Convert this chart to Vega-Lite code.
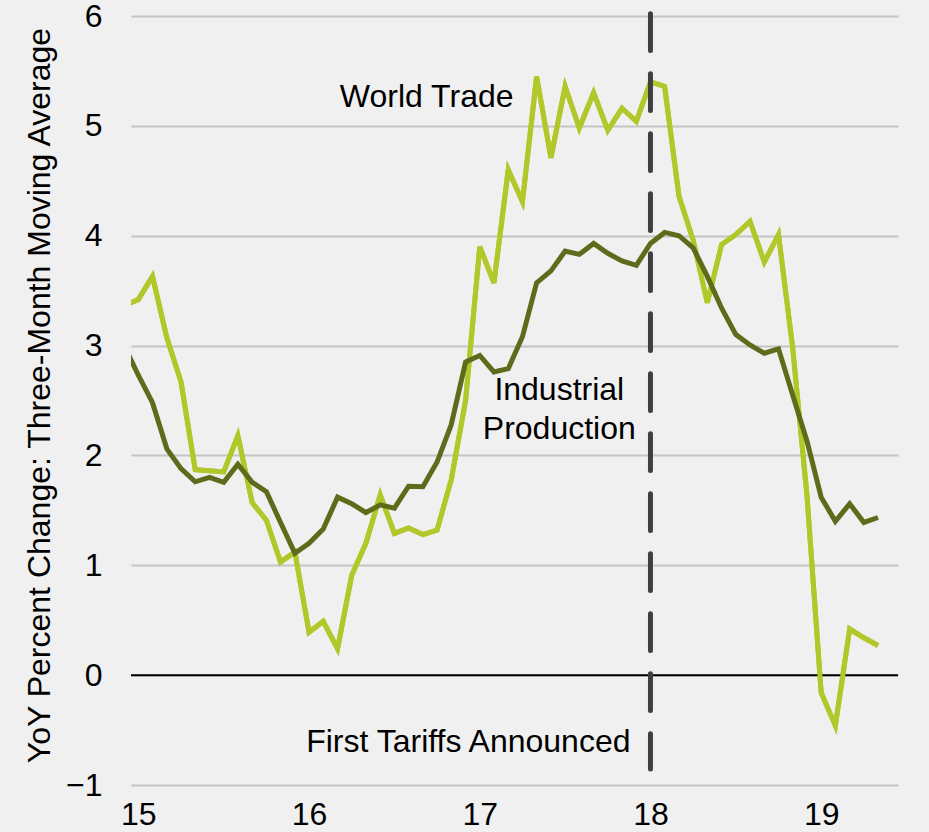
{
  "$schema": "https://vega.github.io/schema/vega-lite/v6.json",
  "width": 767,
  "height": 769,
  "autosize": "none",
  "padding": {"left": 131, "top": 16, "right": 31, "bottom": 47},
  "background": "#f0f0f0",
  "config": {"view": {"stroke": null}, "font": "Liberation Sans"},
  "datasets": {
    "wt": [
      {"t": 14.917, "v": 3.36}, {"t": 15.0, "v": 3.42}, {"t": 15.083, "v": 3.63}, {"t": 15.167, "v": 3.07},
      {"t": 15.25, "v": 2.67}, {"t": 15.333, "v": 1.87}, {"t": 15.417, "v": 1.86}, {"t": 15.5, "v": 1.85},
      {"t": 15.583, "v": 2.18}, {"t": 15.667, "v": 1.57}, {"t": 15.75, "v": 1.41}, {"t": 15.833, "v": 1.03},
      {"t": 15.917, "v": 1.12}, {"t": 16.0, "v": 0.39}, {"t": 16.083, "v": 0.49}, {"t": 16.167, "v": 0.24},
      {"t": 16.25, "v": 0.91}, {"t": 16.333, "v": 1.2}, {"t": 16.417, "v": 1.64}, {"t": 16.5, "v": 1.29},
      {"t": 16.583, "v": 1.34}, {"t": 16.667, "v": 1.28}, {"t": 16.75, "v": 1.32}, {"t": 16.833, "v": 1.78},
      {"t": 16.917, "v": 2.5}, {"t": 17.0, "v": 3.9}, {"t": 17.083, "v": 3.57}, {"t": 17.167, "v": 4.6},
      {"t": 17.25, "v": 4.31}, {"t": 17.333, "v": 5.45}, {"t": 17.417, "v": 4.71}, {"t": 17.5, "v": 5.36},
      {"t": 17.583, "v": 4.98}, {"t": 17.667, "v": 5.3}, {"t": 17.75, "v": 4.96}, {"t": 17.833, "v": 5.16},
      {"t": 17.917, "v": 5.04}, {"t": 18.0, "v": 5.4}, {"t": 18.083, "v": 5.36}, {"t": 18.167, "v": 4.36},
      {"t": 18.25, "v": 3.96}, {"t": 18.333, "v": 3.39}, {"t": 18.417, "v": 3.92}, {"t": 18.5, "v": 4.01},
      {"t": 18.583, "v": 4.13}, {"t": 18.667, "v": 3.76}, {"t": 18.75, "v": 4.01}, {"t": 18.833, "v": 2.98},
      {"t": 18.917, "v": 1.63}, {"t": 19.0, "v": -0.16}, {"t": 19.083, "v": -0.46}, {"t": 19.167, "v": 0.42},
      {"t": 19.25, "v": 0.34}, {"t": 19.333, "v": 0.27}
    ],
    "ip": [
      {"t": 14.917, "v": 3.0}, {"t": 15.0, "v": 2.73}, {"t": 15.083, "v": 2.48}, {"t": 15.167, "v": 2.06},
      {"t": 15.25, "v": 1.88}, {"t": 15.333, "v": 1.76}, {"t": 15.417, "v": 1.8}, {"t": 15.5, "v": 1.755},
      {"t": 15.583, "v": 1.92}, {"t": 15.667, "v": 1.755}, {"t": 15.75, "v": 1.67}, {"t": 15.833, "v": 1.39},
      {"t": 15.917, "v": 1.11}, {"t": 16.0, "v": 1.2}, {"t": 16.083, "v": 1.33}, {"t": 16.167, "v": 1.62},
      {"t": 16.25, "v": 1.56}, {"t": 16.333, "v": 1.48}, {"t": 16.417, "v": 1.55}, {"t": 16.5, "v": 1.52},
      {"t": 16.583, "v": 1.72}, {"t": 16.667, "v": 1.715}, {"t": 16.75, "v": 1.94}, {"t": 16.833, "v": 2.28},
      {"t": 16.917, "v": 2.85}, {"t": 17.0, "v": 2.91}, {"t": 17.083, "v": 2.76}, {"t": 17.167, "v": 2.79},
      {"t": 17.25, "v": 3.08}, {"t": 17.333, "v": 3.57}, {"t": 17.417, "v": 3.68}, {"t": 17.5, "v": 3.86},
      {"t": 17.583, "v": 3.83}, {"t": 17.667, "v": 3.93}, {"t": 17.75, "v": 3.84}, {"t": 17.833, "v": 3.77},
      {"t": 17.917, "v": 3.73}, {"t": 18.0, "v": 3.93}, {"t": 18.083, "v": 4.03}, {"t": 18.167, "v": 4.0},
      {"t": 18.25, "v": 3.89}, {"t": 18.333, "v": 3.63}, {"t": 18.417, "v": 3.34}, {"t": 18.5, "v": 3.1},
      {"t": 18.583, "v": 3.005}, {"t": 18.667, "v": 2.93}, {"t": 18.75, "v": 2.97}, {"t": 18.833, "v": 2.55},
      {"t": 18.917, "v": 2.13}, {"t": 19.0, "v": 1.62}, {"t": 19.083, "v": 1.4}, {"t": 19.167, "v": 1.56},
      {"t": 19.25, "v": 1.39}, {"t": 19.333, "v": 1.435}
    ],
    "labels": [
      {"label": "World Trade", "t": 16.689, "v": 5.17},
      {"label": "Industrial", "t": 17.466, "v": 2.505},
      {"label": "Production", "t": 17.466, "v": 2.149},
      {"label": "First Tariffs Announced", "t": 16.933, "v": -0.7}
    ],
    "marker": [{"t": 18.0, "top": 6.02, "bot": -0.855}],
    "zero": [{"v": 0}]
  },
  "layer": [
    {
      "data": {"name": "wt"},
      "mark": {"type": "line", "color": "#b2c72a", "strokeWidth": 5, "clip": true},
      "encoding": {
        "x": {
          "field": "t", "type": "quantitative",
          "scale": {"domain": [14.957, 19.45], "nice": false, "zero": false},
          "axis": {
            "values": [15, 16, 17, 18, 19], "format": "d", "grid": false, "domain": false, "ticks": false,
            "labelFontSize": 32, "labelColor": "#000000", "labelPadding": 14, "labelFlush": false, "title": null
          }
        },
        "y": {
          "field": "v", "type": "quantitative",
          "scale": {"domain": [-1, 6], "nice": false, "zero": false},
          "axis": {
            "values": [-1, 0, 1, 2, 3, 4, 5, 6], "format": "d", "grid": true, "gridColor": "#c4c4c4", "gridWidth": 2,
            "domain": false, "ticks": false, "labelFontSize": 32, "labelColor": "#000000", "labelPadding": 29,
            "title": "YoY Percent Change: Three-Month Moving Average",
            "titleFontSize": 32, "titleFontWeight": "normal", "titleColor": "#000000",
            "titleX": -82, "titleY": 379, "titleBaseline": "alphabetic", "titleAngle": 270
          }
        }
      }
    },
    {
      "data": {"name": "zero"},
      "mark": {"type": "rule", "color": "#000000", "strokeWidth": 2},
      "encoding": {"y": {"field": "v", "type": "quantitative"}}
    },
    {
      "data": {"name": "wt"},
      "mark": {"type": "line", "color": "#b2c72a", "strokeWidth": 5, "clip": true},
      "encoding": {
        "x": {"field": "t", "type": "quantitative"},
        "y": {"field": "v", "type": "quantitative"}
      }
    },
    {
      "data": {"name": "ip"},
      "mark": {"type": "line", "color": "#5d6b1b", "strokeWidth": 5, "clip": true},
      "encoding": {
        "x": {"field": "t", "type": "quantitative"},
        "y": {"field": "v", "type": "quantitative"}
      }
    },
    {
      "data": {"name": "marker"},
      "mark": {"type": "rule", "color": "#3f3f3f", "strokeWidth": 5, "strokeDash": [36.7, 23.3], "strokeCap": "round"},
      "encoding": {
        "x": {"field": "t", "type": "quantitative"},
        "y": {"field": "top", "type": "quantitative"},
        "y2": {"field": "bot"}
      }
    },
    {
      "data": {"name": "labels"},
      "mark": {"type": "text", "fontSize": 32, "color": "#000000", "align": "center", "baseline": "alphabetic"},
      "encoding": {
        "x": {"field": "t", "type": "quantitative"},
        "y": {"field": "v", "type": "quantitative"},
        "text": {"field": "label"}
      }
    }
  ]
}
